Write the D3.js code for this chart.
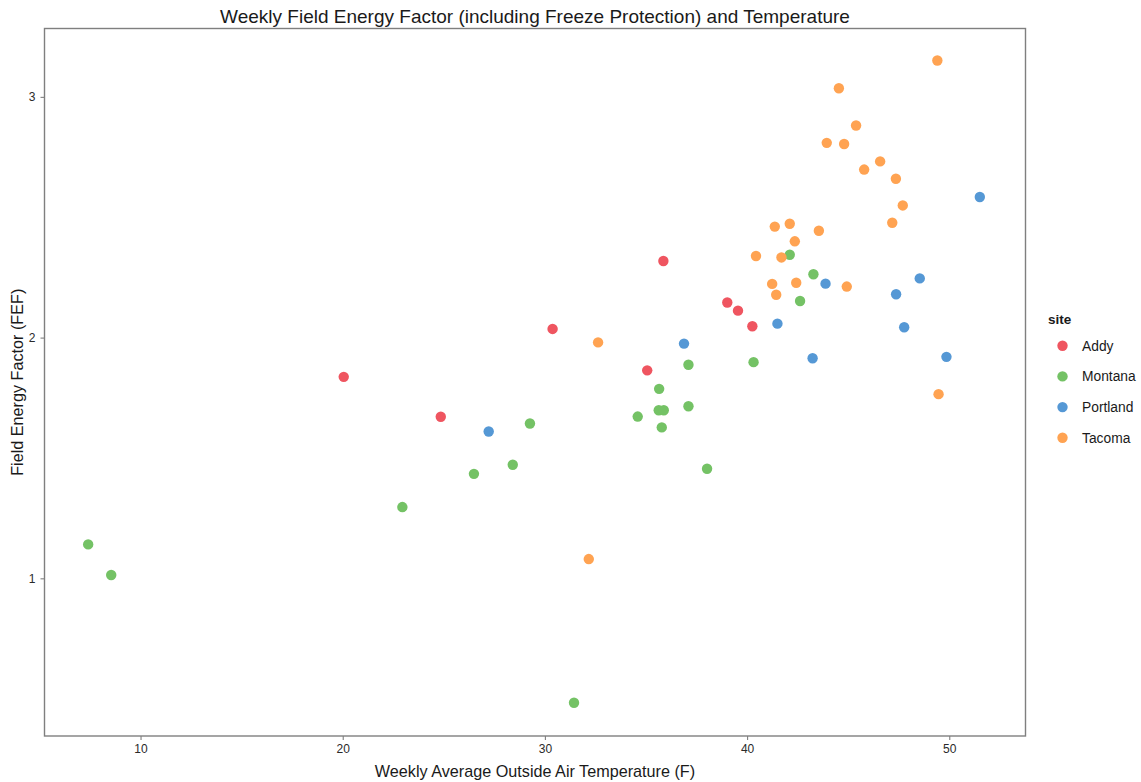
<!DOCTYPE html>
<html>
<head>
<meta charset="utf-8">
<script src="https://cdn.jsdelivr.net/npm/d3@7"></script>
<style>
  body { margin: 0; background: #fff; }
  svg { display: block; font-family: "Liberation Sans", Arial, sans-serif; }
</style>
</head>
<body>
<svg id="chart" width="1141" height="782"></svg>
<script>
// Site names and colours
const sites = ["Addy", "Montana", "Portland", "Tacoma"];
const siteColors = ["#EF5560", "#74C265", "#5598D5", "#FFA352"];

// Weekly average outside air temperature (F) and field energy factor per site
const addyTemp = [20.05, 24.85, 30.38, 35.86, 35.06, 39.02, 39.55, 40.26];
const addyFEF  = [1.837, 1.671, 2.036, 2.318, 1.864, 2.146, 2.112, 2.047];

const montanaTemp = [7.41, 8.55, 22.95, 26.49, 28.41, 29.26, 31.44, 34.59, 35.65, 35.63, 35.88,
                     35.78, 37.10, 37.10, 38.02, 40.32, 42.11, 42.62, 43.28];
const montanaFEF  = [1.141, 1.014, 1.296, 1.434, 1.472, 1.643, 0.483, 1.672, 1.787, 1.698, 1.698,
                     1.627, 1.887, 1.715, 1.455, 1.898, 2.344, 2.152, 2.263];

const portlandTemp = [27.22, 36.88, 41.50, 43.24, 43.88, 47.37, 47.77, 48.54, 49.86, 51.51];
const portlandFEF  = [1.610, 1.975, 2.058, 1.914, 2.224, 2.180, 2.043, 2.246, 1.920, 2.584];

const tacomaTemp = [49.41, 44.54, 45.39, 43.94, 44.80, 46.58, 45.79, 47.36, 47.70, 47.18, 41.37, 42.11,
                    43.55, 42.36, 40.44, 41.70, 41.24, 42.43, 44.93, 41.44, 32.63, 49.47, 32.17];
const tacomaFEF  = [3.151, 3.036, 2.881, 2.809, 2.804, 2.732, 2.698, 2.660, 2.549, 2.477, 2.461, 2.473,
                    2.444, 2.400, 2.339, 2.333, 2.223, 2.228, 2.212, 2.178, 1.980, 1.765, 1.080];

// Axis ticks
const xTicks = [10, 20, 30, 40, 50];
const yTicks = [1, 2, 3];

const titleText = "Weekly Field Energy Factor (including Freeze Protection) and Temperature";
const xLabel = "Weekly Average Outside Air Temperature (F)";
const yLabel = "Field Energy Factor (FEF)";
const legendTitle = "site";

const seriesTemp = [addyTemp, montanaTemp, portlandTemp, tacomaTemp];
const seriesFEF = [addyFEF, montanaFEF, portlandFEF, tacomaFEF];

const points = [];
sites.forEach((s, i) => {
  seriesTemp[i].forEach((t, j) => points.push({ site: s, temp: t, fef: seriesFEF[i][j] }));
});

const svg = d3.select("#chart");
const panel = { left: 44.5, right: 1025.5, top: 28.5, bottom: 736 };

const x = d3.scaleLinear().domain([5.25, 53.77]).range([panel.left, panel.right]);
const y = d3.scaleLinear().domain([0.345, 3.284]).range([panel.bottom, panel.top]);
const color = d3.scaleOrdinal().domain(sites).range(siteColors);

// Points
svg.append("g")
  .selectAll("circle")
  .data(points)
  .join("circle")
  .attr("cx", d => x(d.temp))
  .attr("cy", d => y(d.fef))
  .attr("r", 5.2)
  .attr("fill", d => color(d.site));

// Panel border
svg.append("rect")
  .attr("x", panel.left).attr("y", panel.top)
  .attr("width", panel.right - panel.left)
  .attr("height", panel.bottom - panel.top)
  .attr("fill", "none")
  .attr("stroke", "#7f7f7f")
  .attr("stroke-width", 1.4);

// Axes
const xAxis = svg.append("g")
  .attr("transform", `translate(0,${panel.bottom})`)
  .call(d3.axisBottom(x).tickValues(xTicks).tickSize(4).tickPadding(4).tickFormat(d3.format("d")));
const yAxis = svg.append("g")
  .attr("transform", `translate(${panel.left},0)`)
  .call(d3.axisLeft(y).tickValues(yTicks).tickSize(4).tickPadding(5).tickFormat(d3.format("d")));

[xAxis, yAxis].forEach(a => {
  a.select(".domain").remove();
  a.selectAll(".tick line").attr("stroke", "#7f7f7f").attr("stroke-width", 1.1);
  a.selectAll(".tick text")
    .attr("fill", "#2a2a2a")
    .style("font-size", "12px")
    .style("font-family", "'Liberation Sans', Arial, sans-serif");
});

// Title and axis titles
svg.append("text")
  .attr("x", (panel.left + panel.right) / 2)
  .attr("y", 23)
  .attr("text-anchor", "middle")
  .attr("fill", "#1a1a1a")
  .style("font-size", "19px")
  .text(titleText);

svg.append("text")
  .attr("x", (panel.left + panel.right) / 2)
  .attr("y", 777)
  .attr("text-anchor", "middle")
  .attr("fill", "#1a1a1a")
  .style("font-size", "16.2px")
  .text(xLabel);

svg.append("text")
  .attr("transform", `translate(23,${(panel.top + panel.bottom) / 2}) rotate(-90)`)
  .attr("text-anchor", "middle")
  .attr("fill", "#1a1a1a")
  .style("font-size", "16.2px")
  .text(yLabel);

// Legend
const legend = svg.append("g").attr("transform", "translate(1049,0)");
legend.append("text")
  .attr("x", -1).attr("y", 324)
  .attr("fill", "#1a1a1a")
  .style("font-size", "13.5px")
  .style("font-weight", "bold")
  .text(legendTitle);

const keys = legend.selectAll("g.key")
  .data(sites)
  .join("g")
  .attr("class", "key")
  .attr("transform", (d, i) => `translate(0,${345.7 + i * 30.7})`);
keys.append("circle")
  .attr("cx", 13.5).attr("cy", 0).attr("r", 5.2)
  .attr("fill", d => color(d));
keys.append("text")
  .attr("x", 33).attr("y", 5)
  .attr("fill", "#1a1a1a")
  .style("font-size", "13.8px")
  .text(d => d);
</script>
</body>
</html>
